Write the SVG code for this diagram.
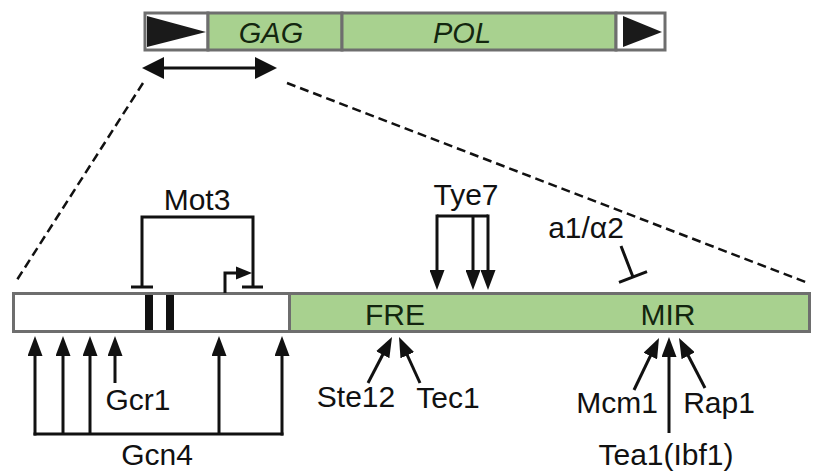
<svg xmlns="http://www.w3.org/2000/svg" width="813" height="473" viewBox="0 0 813 473">
<style>
text{font-family:"Liberation Sans",Arial,sans-serif;font-size:30px;fill:#111;text-anchor:middle}
.in{fill:#13260f}
.it{font-style:italic;font-size:29px}
.box{stroke:#6e6e6e;stroke-width:3}
.g{fill:#a8d18f}
.w{fill:#fff}
.ln{fill:none;stroke:#111;stroke-width:3}
.dash{fill:none;stroke:#111;stroke-width:2.5;stroke-dasharray:9 5}
</style>
<defs>
<marker id="ah" markerUnits="userSpaceOnUse" viewBox="0 0 20 15" refX="14" refY="7.5" markerWidth="20" markerHeight="15" orient="auto">
<path d="M0,0 L20,7.5 L0,15 z" fill="#111"/>
</marker>
<marker id="ah2" markerUnits="userSpaceOnUse" viewBox="0 0 22 22" refX="15" refY="11" markerWidth="22" markerHeight="22" orient="auto-start-reverse">
<path d="M0,0 L22,11 L0,22 z" fill="#111"/>
</marker>
</defs>
<g id="element">
<rect class="box w" x="145" y="13" width="63" height="37"/>
<rect class="box g" x="208" y="13" width="134" height="37"/>
<rect class="box g" x="342" y="13" width="274" height="37"/>
<rect class="box w" x="616" y="13" width="49" height="37"/>
<polygon points="147,16 147,47 206,32" fill="#1a1a1a"/>
<polygon points="623,16 623,47 662,32" fill="#1a1a1a"/>
<text class="in it" x="271" y="43">GAG</text>
<text class="in it" x="462" y="43">POL</text>
</g>
<g id="ltr-region">
<rect class="box w" x="13.5" y="293.5" width="276" height="38"/>
<rect class="box g" x="289.5" y="293.5" width="520" height="38"/>
<rect x="145" y="295" width="8" height="35" fill="#111"/>
<rect x="166" y="295" width="8" height="35" fill="#111"/>
<text class="in" x="395" y="325">FRE</text>
<text class="in" x="668" y="325">MIR</text>
</g>
<g id="labels">
<text x="197" y="210">Mot3</text>
<text x="466" y="205">Tye7</text>
<text x="586" y="238">a1/α2</text>
<text x="138" y="410">Gcr1</text>
<text x="157" y="465">Gcn4</text>
<text x="356" y="407">Ste12</text>
<text x="448" y="408">Tec1</text>
<text x="617" y="413">Mcm1</text>
<text x="719" y="413">Rap1</text>
<text x="666" y="465">Tea1(Ibf1)</text>
</g>
<g id="connectors">
<line class="ln" x1="149" y1="68" x2="270" y2="68" stroke-width="4" marker-start="url(#ah2)" marker-end="url(#ah2)"/>
<line class="dash" x1="143" y1="83" x2="15" y2="283"/>
<line class="dash" x1="287" y1="83" x2="808" y2="283"/>
<path class="ln" d="M142,287 V217 H253 V287 M131,287 H153 M242,287 H263"/>
<path class="ln" d="M225,293 V273 H238"/>
<polygon points="236,266.5 252,273 236,279.5" fill="#111"/>
<path class="ln" d="M437,216 H488"/>
<line class="ln" x1="437" y1="214.5" x2="437" y2="284" marker-end="url(#ah)"/>
<line class="ln" x1="473" y1="216" x2="473" y2="284" marker-end="url(#ah)"/>
<line class="ln" x1="488" y1="214.5" x2="488" y2="284" marker-end="url(#ah)"/>
<path class="ln" d="M621,246 L633,277 M619,282.4 L647,271.6"/>
<path class="ln" d="M33.5,434 H283.5"/>
<line class="ln" x1="35" y1="435.5" x2="35" y2="342" marker-end="url(#ah)"/>
<line class="ln" x1="63" y1="434" x2="63" y2="342" marker-end="url(#ah)"/>
<line class="ln" x1="90" y1="434" x2="90" y2="342" marker-end="url(#ah)"/>
<line class="ln" x1="219" y1="434" x2="219" y2="342" marker-end="url(#ah)"/>
<line class="ln" x1="282" y1="435.5" x2="282" y2="342" marker-end="url(#ah)"/>
<line class="ln" x1="115" y1="383" x2="115" y2="342" marker-end="url(#ah)"/>
<line class="ln" x1="368" y1="383" x2="389.2" y2="342.3" marker-end="url(#ah)"/>
<line class="ln" x1="420" y1="383" x2="401.5" y2="342.5" marker-end="url(#ah)"/>
<line class="ln" x1="634" y1="390" x2="656.4" y2="343.4" marker-end="url(#ah)"/>
<line class="ln" x1="669" y1="433" x2="669" y2="343" marker-end="url(#ah)"/>
<line class="ln" x1="705" y1="388" x2="681.8" y2="343.3" marker-end="url(#ah)"/>
</g>
</svg>
